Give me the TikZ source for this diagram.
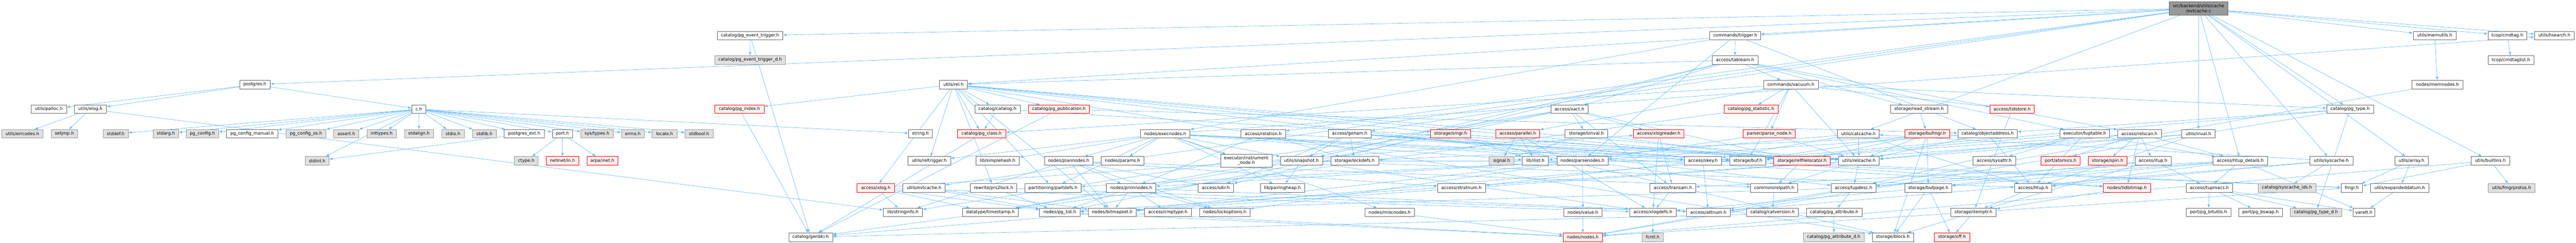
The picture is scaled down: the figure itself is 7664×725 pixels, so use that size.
\documentclass[tikz,border=0pt]{standalone}
\usepackage{fontspec}
\newfontfamily\dvs{DejaVu Sans}
\usetikzlibrary{arrows.meta,backgrounds}
\definecolor{edgeblue}{HTML}{63B8FF}
\definecolor{wborder}{HTML}{666666}
\definecolor{gfill}{HTML}{E0E0E0}
\definecolor{gborder}{HTML}{999999}
\definecolor{rfill}{HTML}{FFF0F0}
\definecolor{topfill}{HTML}{999999}
\tikzset{
  box/.style={rectangle,inner sep=0pt,minimum height=19pt,line width=0.75pt,
    font=\dvs\fontsize{9.7}{11.25}\selectfont,text=black,align=center},
  w/.style={box,fill=white,draw=wborder},
  g/.style={box,fill=gfill,draw=gborder},
  r/.style={box,fill=rfill,draw=red},
  topbox/.style={box,fill=topfill,draw=wborder},
  two/.style={minimum height=29.5pt},
  e/.style={draw=edgeblue,line width=0.75pt,-{Latex[length=7.5pt,width=5.5pt]}}
}
\newcommand\nd[6]{\node[#5,minimum width={(#3-#2)*0.75pt}] (#1) at ({(#2+#3)/2},#4) {#6};}
\newcommand\ed[2]{\foreach \tgt in {#2}{\draw[e] (#1) -- (\tgt);}}
\def\rA{25.2}\def\rB{106}\def\rC{179}\def\rD{252.3}\def\rE{325.7}
\def\rF{399}\def\rG{479.6}\def\rH{560.5}\def\rI{633.6}\def\rJ{707.5}
\begin{document}
\begin{tikzpicture}[x=0.75pt,y=-0.75pt]
\useasboundingbox (0,0) rectangle (7664,725);
\nd{top}{6454}{6628}{\rA}{topbox,two}{src/backend/utils/cache\\/evtcache.c}
\nd{palloc}{92}{198}{\rE}{w}{utils/palloc.h}
\nd{elog}{221}{317}{\rE}{w}{utils/elog.h}
\nd{errcodes}{5}{128}{\rF}{g}{utils/errcodes.h}
\nd{setjmp}{152}{231}{\rF}{g}{setjmp.h}
\nd{stddef}{306.5}{381.6}{\rF}{g}{stddef.h}
\nd{stdarg}{456}{531}{\rF}{g}{stdarg.h}
\nd{pgconfig}{554}{650}{\rF}{g}{pg\_config.h}
\nd{postgres}{712.7}{804}{\rD}{w}{postgres.h}
\nd{ch}{1225}{1267}{\rE}{w}{c.h}
\nd{pgcfgman}{674}{826.5}{\rF}{w}{pg\_config\_manual.h}
\nd{pgcfgos}{850.6}{969.8}{\rF}{g}{pg\_config\_os.h}
\nd{assert}{992.7}{1067.8}{\rF}{g}{assert.h}
\nd{inttypes}{1092}{1179}{\rF}{g}{inttypes.h}
\nd{stdalign}{1203}{1290}{\rF}{g}{stdalign.h}
\nd{stdint}{908}{979}{\rG}{g}{stdint.h}
\nd{stdio}{1314}{1381}{\rF}{g}{stdio.h}
\nd{stdlib}{1406}{1477}{\rF}{g}{stdlib.h}
\nd{pgext}{1500}{1619}{\rF}{w}{postgres\_ext.h}
\nd{port}{1643}{1703}{\rF}{w}{port.h}
\nd{systypes}{1728}{1824}{\rF}{g}{sys/types.h}
\nd{errno}{1848.6}{1916.7}{\rF}{g}{errno.h}
\nd{ctype}{1530}{1601}{\rG}{g}{ctype.h}
\nd{netinet}{1625}{1722}{\rG}{r}{netinet/in.h}
\nd{arpa}{1746}{1838}{\rG}{r}{arpa/inet.h}
\nd{locale}{1940}{2014}{\rF}{g}{locale.h}
\nd{stdbool}{2038}{2122}{\rF}{g}{stdbool.h}
\nd{pgevt}{2134}{2329}{\rB}{w}{catalog/pg\_event\_trigger.h}
\nd{pgevtd}{2126.5}{2337}{\rC}{g}{catalog/pg\_event\_trigger\_d.h}
\nd{pgindex}{2127}{2273}{\rE}{r}{catalog/pg\_index.h}
\nd{genbki}{2346.5}{2477}{\rJ}{w}{catalog/genbki.h}
\nd{xlog}{2550}{2661}{\rH}{r}{access/xlog.h}
\nd{rel}{2795.5}{2878}{\rD}{w}{utils/rel.h}
\nd{catalog}{2900}{3035}{\rE}{w}{catalog/catalog.h}
\nd{pgpub}{3059.6}{3241}{\rE}{r}{catalog/pg\_publication.h}
\nd{string}{2703}{2774}{\rF}{w}{string.h}
\nd{pgclass}{2849}{2992}{\rF}{r}{catalog/pg\_class.h}
\nd{reltrig}{2702}{2828}{\rG}{w}{utils/reltrigger.h}
\nd{simplehash}{2903}{3033}{\rG}{w}{lib/simplehash.h}
\nd{plannodes}{3107}{3252}{\rG}{w}{nodes/plannodes.h}
\nd{evtcacheh}{2686.5}{2812}{\rH}{w}{utils/evtcache.h}
\nd{prs2lock}{2886.5}{3025}{\rH}{w}{rewrite/prs2lock.h}
\nd{partdefs}{3049}{3216}{\rH}{w}{partitioning/partdefs.h}
\nd{stringinfo}{2628}{2744.5}{\rI}{w}{lib/stringinfo.h}
\nd{timestamp}{2863}{3030}{\rI}{w}{datatype/timestamp.h}
\nd{pglist}{3092.6}{3213}{\rI}{w}{nodes/pg\_list.h}
\nd{execnodes}{3393}{3540}{\rF}{w}{nodes/execnodes.h}
\nd{relation}{3692}{3824.5}{\rF}{w}{access/relation.h}
\nd{params}{3276}{3403}{\rG}{w}{nodes/params.h}
\nd{instr}{3631}{3784.5}{\rG}{w,two}{executor/instrument\\\_node.h}
\nd{snapshot}{3809}{3935}{\rG}{w}{utils/snapshot.h}
\nd{primnodes}{3292}{3439}{\rH}{w}{nodes/primnodes.h}
\nd{sdir}{3564.5}{3670}{\rH}{w}{access/sdir.h}
\nd{pairingheap}{3750}{3881}{\rH}{w}{lib/pairingheap.h}
\nd{bitmapset}{3238}{3380}{\rI}{w}{nodes/bitmapset.h}
\nd{cmptype}{3405}{3544}{\rI}{w}{access/cmptype.h}
\nd{lockoptions}{3568.6}{3719}{\rI}{w}{nodes/lockoptions.h}
\nd{genam}{3952}{4079}{\rF}{w}{access/genam.h}
\nd{smgr}{4256}{4375.5}{\rF}{r}{storage/smgr.h}
\nd{parallel}{4450}{4581}{\rF}{r}{access/parallel.h}
\nd{lockdefs}{3959}{4101.6}{\rG}{w}{storage/lockdefs.h}
\nd{signal}{4431}{4504.5}{\rG}{g}{signal.h}
\nd{stratnum}{4277}{4419}{\rH}{w}{access/stratnum.h}
\nd{miscnodes}{4061}{4208}{\rI}{w}{nodes/miscnodes.h}
\nd{xact}{4614}{4724.5}{\rE}{w}{access/xact.h}
\nd{sinval}{4656}{4783}{\rF}{w}{storage/sinval.h}
\nd{xlogreader}{4859.6}{5010}{\rF}{r}{access/xlogreader.h}
\nd{ilist}{4528.6}{4607}{\rG}{w}{lib/ilist.h}
\nd{parsenodes}{4632}{4784}{\rG}{w}{nodes/parsenodes.h}
\nd{skey}{5010.6}{5122}{\rG}{w}{access/skey.h}
\nd{transam}{4909}{5045}{\rH}{w}{access/transam.h}
\nd{value}{4652.7}{4765.7}{\rI}{w}{nodes/value.h}
\nd{xlogdefs}{4848}{4987}{\rI}{w}{access/xlogdefs.h}
\nd{attnum}{5018}{5147}{\rI}{w}{access/attnum.h}
\nd{nodes}{4650.6}{4767}{\rJ}{r}{nodes/nodes.h}
\nd{fcntl}{4886}{4948}{\rJ}{g}{fcntl.h}
\nd{trigger}{5087}{5238}{\rB}{w}{commands/trigger.h}
\nd{tableam}{5094}{5230}{\rC}{w}{access/tableam.h}
\nd{vacuum}{5246.5}{5409}{\rD}{w}{commands/vacuum.h}
\nd{pgstat}{5128.6}{5290}{\rE}{r}{catalog/pg\_statistic.h}
\nd{readstream}{5625}{5794}{\rE}{w}{storage/read\_stream.h}
\nd{parsenode}{5186.5}{5341}{\rF}{r}{parser/parse\_node.h}
\nd{catcache}{5467}{5591}{\rF}{w}{utils/catcache.h}
\nd{bufmgr}{5666.5}{5800}{\rF}{r}{storage/bufmgr.h}
\nd{buf}{5146.5}{5253.5}{\rG}{w}{storage/buf.h}
\nd{relfileloc}{5277}{5445}{\rG}{r}{storage/relfilelocator.h}
\nd{relcache}{5470}{5591}{\rG}{w}{utils/relcache.h}
\nd{relpath}{5208}{5349}{\rH}{w}{common/relpath.h}
\nd{tupdesc}{5448}{5581}{\rH}{w}{access/tupdesc.h}
\nd{bufpage}{5667}{5807}{\rH}{w}{storage/bufpage.h}
\nd{catversion}{5196}{5350.6}{\rI}{w}{catalog/catversion.h}
\nd{pgattr}{5374}{5539.6}{\rI}{w}{catalog/pg\_attribute.h}
\nd{pgattrd}{5365.7}{5545.7}{\rJ}{g}{catalog/pg\_attribute\_d.h}
\nd{block}{5570}{5693}{\rJ}{w}{storage/block.h}
\nd{off}{5754.7}{5860}{\rJ}{r}{storage/off.h}
\nd{tidstore}{5920}{6052.6}{\rE}{r}{access/tidstore.h}
\nd{objaddr}{5824.5}{6002}{\rF}{w}{catalog/objectaddress.h}
\nd{tuptable}{6128.6}{6276}{\rF}{w}{executor/tuptable.h}
\nd{relscan}{6300}{6430}{\rF}{w}{access/relscan.h}
\nd{sysattr}{5869}{5997}{\rG}{w}{access/sysattr.h}
\nd{atomics}{6072}{6188.6}{\rG}{r}{port/atomics.h}
\nd{spin}{6213}{6328}{\rG}{r}{storage/spin.h}
\nd{itup}{6352}{6459}{\rG}{w}{access/itup.h}
\nd{htup}{5993.5}{6104.5}{\rH}{w}{access/htup.h}
\nd{tidbitmap}{6257.6}{6398}{\rH}{r}{nodes/tidbitmap.h}
\nd{itemptr}{5804}{5939}{\rI}{w}{storage/itemptr.h}
\nd{pgtype}{6922}{7061.5}{\rE}{w}{catalog/pg\_type.h}
\nd{inval}{6491}{6590.6}{\rF}{w}{utils/inval.h}
\nd{htupdet}{6583.7}{6747}{\rG}{w}{access/htup\_details.h}
\nd{syscache}{6872}{7000}{\rG}{w}{utils/syscache.h}
\nd{tupmacs}{6503.7}{6642.4}{\rH}{w}{access/tupmacs.h}
\nd{syscacheids}{6718}{6890}{\rH}{g}{catalog/syscache\_ids.h}
\nd{fmgr}{6965}{7029}{\rH}{w}{fmgr.h}
\nd{bitutils}{6504.5}{6636.7}{\rI}{w}{port/pg\_bitutils.h}
\nd{bswap}{6660}{6790}{\rI}{w}{port/pg\_bswap.h}
\nd{pgtyped}{6813.5}{6967}{\rI}{g}{catalog/pg\_type\_d.h}
\nd{varatt}{7000.6}{7065}{\rI}{w}{varatt.h}
\nd{memutils}{7179.5}{7308}{\rB}{w}{utils/memutils.h}
\nd{cmdtag}{7402}{7517}{\rB}{w}{tcop/cmdtag.h}
\nd{hsearch}{7540.7}{7658.7}{\rB}{w}{utils/hsearch.h}
\nd{cmdtaglist}{7403}{7538}{\rC}{w}{tcop/cmdtaglist.h}
\nd{memnodes}{7176}{7327}{\rD}{w}{nodes/memnodes.h}
\nd{array}{7125}{7224}{\rG}{w}{utils/array.h}
\nd{builtins}{7351.7}{7466.5}{\rG}{w}{utils/builtins.h}
\nd{expanded}{7053}{7226}{\rH}{w}{utils/expandeddatum.h}
\nd{fmgrprotos}{7403}{7541.5}{\rH}{g}{utils/fmgrprotos.h}
\begin{pgfonlayer}{background}
\ed{top}{postgres,genam,htupdet,relation,pgevt,pgtype,trigger,cmdtag,array,builtins,catcache,evtcacheh,hsearch,inval,memutils,rel,syscache}
\ed{postgres}{ch,elog,palloc}
\ed{elog}{errcodes,setjmp,stringinfo}
\ed{ch}{pgconfig,pgcfgman,pgcfgos,assert,inttypes,stdalign,stdio,stdlib,pgext,port,systypes,errno,locale,stdbool,stddef,stdarg,stdint,string}
\ed{pgext}{stdint}
\ed{port}{ctype,netinet,arpa}
\ed{pgevt}{genbki,pgevtd}
\ed{pgindex}{genbki}
\ed{pgclass}{genbki}
\ed{pgpub}{genbki,objaddr}
\ed{pgstat}{genbki}
\ed{catalog}{pgclass,relcache}
\ed{rel}{tupdesc,xlog,catalog,pgclass,pgindex,pgpub,bitmapset,partdefs,prs2lock,block,relfileloc,smgr,relcache,reltrig}
\ed{xlog}{xlogdefs,xlogreader,timestamp,stringinfo,pglist}
\ed{evtcacheh}{bitmapset,pglist}
\ed{prs2lock}{attnum,pglist}
\ed{pglist}{nodes}
\ed{execnodes}{instr,fmgr,ilist,pairingheap,miscnodes,params,plannodes,tidbitmap,partdefs,hsearch,reltrig,snapshot,simplehash,skey}
\ed{relation}{primnodes,lockdefs,relcache}
\ed{snapshot}{htup,xlogdefs,timestamp,pairingheap,buf}
\ed{primnodes}{attnum,cmptype,bitmapset,lockoptions,pglist}
\ed{plannodes}{sdir,stratnum,relpath,stringinfo,bitmapset,lockoptions,primnodes}
\ed{bitmapset}{nodes}
\ed{genam}{sdir,skey,tidbitmap,buf,lockdefs,relcache,snapshot}
\ed{smgr}{ilist,block,relfileloc}
\ed{parallel}{xlogdefs,ilist,signal}
\ed{miscnodes}{nodes}
\ed{xact}{transam,xlogreader,timestamp,stringinfo,pglist,relfileloc,sinval}
\ed{sinval}{signal,relfileloc}
\ed{xlogreader}{transam,xlogdefs}
\ed{parsenodes}{relpath,bitmapset,lockoptions,primnodes,value,partdefs}
\ed{skey}{attnum,stratnum,fmgr}
\ed{transam}{xlogdefs}
\ed{value}{nodes}
\ed{xlogdefs}{fcntl}
\ed{trigger}{tableam,objaddr,execnodes,parsenodes}
\ed{tableam}{relscan,sdir,xact,vacuum,tuptable,readstream,rel,snapshot}
\ed{vacuum}{pgclass,pgstat,pgtype,parsenode,buf,relcache,tidstore,parallel}
\ed{readstream}{bufmgr}
\ed{parsenode}{parsenodes,relcache}
\ed{catcache}{htup,skey,ilist,relcache}
\ed{bufmgr}{block,buf,bufpage,relfileloc,relcache}
\ed{relfileloc}{relpath}
\ed{relcache}{tupdesc,relpath,bitmapset,pglist}
\ed{relpath}{catversion}
\ed{tupdesc}{attnum,pgattr,pglist}
\ed{bufpage}{xlogdefs,block,off}
\ed{pgattr}{genbki,pgattrd}
\ed{tidstore}{itemptr}
\ed{objaddr}{htup,parsenodes,lockdefs,relcache}
\ed{tuptable}{htup,htupdet,sysattr,tupdesc,buf}
\ed{relscan}{htupdet,itup,tidbitmap,atomics,buf,spin,relcache}
\ed{itup}{tupdesc,tupmacs,bufpage,itemptr}
\ed{htup}{itemptr}
\ed{tidbitmap}{itemptr}
\ed{itemptr}{block,off}
\ed{pgtype}{genbki,objaddr,pgtyped,nodes}
\ed{inval}{htup,relfileloc,relcache}
\ed{htupdet}{htup,transam,tupdesc,tupmacs,bufpage,varatt}
\ed{syscache}{attnum,htup,syscacheids,catcache}
\ed{tupmacs}{pgtyped,bitutils,bswap,varatt}
\ed{fmgr}{nodes}
\ed{memutils}{memnodes}
\ed{cmdtag}{cmdtaglist}
\ed{memnodes}{nodes}
\ed{array}{fmgr,expanded}
\ed{builtins}{fmgr,nodes,fmgrprotos}
\ed{expanded}{varatt}
\end{pgfonlayer}
\end{tikzpicture}
\end{document}
